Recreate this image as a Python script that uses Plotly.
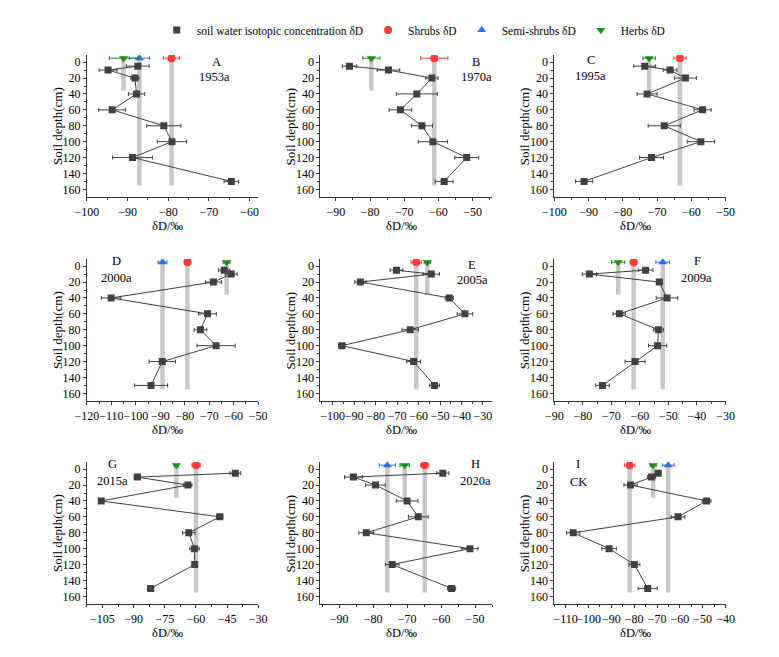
import plotly.graph_objects as go

# ---------------- data ----------------
depths = [5, 10, 20, 40, 60, 80, 100, 120, 150]
panel_letters = ["A", "B", "C", "D", "E", "F", "G", "H", "I"]
panel_years = ["1953a", "1970a", "1995a", "2000a", "2005a", "2009a", "2015a", "2020a", "CK"]

dD_A = [-87.5, -94.8, -88.2, -87.8, -93.8, -81.1, -79.1, -88.8, -64.5]
sd_A = [2.8, 2.2, 1.0, 2.0, 3.3, 4.2, 3.6, 4.9, 1.8]
dD_B = [-86.0, -74.6, -61.9, -66.3, -71.1, -64.8, -61.6, -51.7, -58.3]
sd_B = [2.1, 3.3, 1.8, 6.0, 3.3, 3.1, 4.3, 3.5, 2.6]
dD_C = [-73.6, -66.2, -61.7, -72.9, -56.7, -67.9, -57.2, -71.6, -91.3]
sd_C = [3.2, 2.0, 3.2, 2.9, 2.5, 4.7, 4.0, 3.5, 2.5]
dD_D = [-63.9, -61.0, -68.3, -110.1, -70.7, -73.6, -67.2, -89.2, -93.8]
sd_D = [2.3, 2.4, 3.3, 4.0, 3.6, 2.6, 7.8, 5.4, 6.8]
dD_E = [-70.3, -54.1, -87.1, -45.7, -38.4, -63.9, -95.7, -62.3, -52.6]
sd_E = [3.0, 3.8, 2.6, 1.9, 3.6, 3.8, 1.5, 3.2, 2.3]
dD_F = [-58.0, -77.7, -53.2, -50.5, -67.2, -53.5, -53.8, -61.7, -73.1]
sd_F = [2.6, 2.5, 1.0, 3.8, 2.2, 1.7, 3.2, 3.5, 2.4]
dD_G = [-41.0, -88.2, -63.9, -105.6, -48.5, -63.4, -60.7, -60.6, -81.8]
sd_G = [2.6, 1.5, 2.0, 1.0, 1.5, 3.0, 2.3, 1.0, 1.5]
dD_H = [-59.5, -85.8, -79.3, -70.0, -66.7, -82.0, -51.5, -74.4, -56.9]
sd_H = [1.8, 2.6, 2.9, 3.2, 2.9, 2.2, 2.4, 2.0, 1.2]
dD_I = [-69.5, -72.4, -81.6, -48.3, -60.8, -106.7, -91.0, -79.9, -74.1]
sd_I = [1.2, 1.8, 2.9, 1.9, 3.0, 2.9, 3.2, 2.4, 4.2]

soil_dD = [dD_A, dD_B, dD_C, dD_D, dD_E, dD_F, dD_G, dD_H, dD_I]
soil_sd = [sd_A, sd_B, sd_C, sd_D, sd_E, sd_F, sd_G, sd_H, sd_I]

# plant xylem water (None = not sampled)
shrubs_dD = [-79.2, -61.2, -63.3, -78.9, -61.1, -62.2, -59.9, -64.8, -82.0]
shrubs_sd = [2.0, 4.0, 1.8, 1.3, 2.4, 1.2, 2.0, 1.2, 2.3]
semi_dD = [-87.1, None, None, -89.1, None, -52.0, None, -75.8, -65.1]
semi_sd = [2.5, None, None, 1.8, None, 2.4, None, 2.4, 2.6]
herbs_dD = [-91.0, -79.6, -72.3, -62.9, -55.9, -67.6, -69.4, -70.7, -71.7]
herbs_sd = [3.5, 2.5, 1.8, 1.4, 1.5, 2.3, 1.0, 1.4, 1.3]

plant_depth = -5          # plotted just above the surface
deep_root = 155           # shrubs / semi-shrubs rooting depth
shallow_root = 36         # herbs rooting depth

x_ranges = [[-100, -57.9], [-94.5, -44.3], [-100, -50],
            [-120, -50], [-105.7, -25.8], [-90, -30],
            [-112.5, -30], [-95.5, -45], [-115, -40]]
x_dticks = [10, 10, 10, 10, 10, 10, 15, 10, 10]

# ---------------- layout helpers ----------------
W, H = 779, 657
FONT = "Liberation Serif, Times New Roman, serif"
cols = [(77, 253), (317, 493.3), (557.3, 733.3)]
rows = [(55, 197.3), (259, 401.3), (462, 604.3)]
label_pos = [(210, 62, 208, 77), (477, 62, 477, 77), (595, 60, 595, 76),
             (107, 261, 107, 278), (473, 265, 473, 280), (704, 261, 703, 278),
             (103, 464, 103, 481), (476, 464, 476, 481), (582, 464, 582, 482)]

def fx(p):
    return p / W

def fy(p):
    return 1 - p / H

SOIL = "#404040"
RED = "#ff3b3b"
BLUE = "#2f6fe6"
GREEN = "#1a8a1a"
BAR = "#c8c8c8"

fig = go.Figure()
annotations = []

for i in range(9):
    r, c = divmod(i, 3)
    sfx = "" if i == 0 else str(i + 1)
    xa, ya = "x" + sfx, "y" + sfx
    first = i == 0

    # grey root-zone bars
    for vals, dep in ((semi_dD, deep_root), (shrubs_dD, deep_root), (herbs_dD, shallow_root)):
        v = vals[i]
        if v is not None:
            fig.add_trace(go.Scatter(x=[v, v], y=[plant_depth, dep], mode="lines",
                                     line=dict(color=BAR, width=4.5), showlegend=False,
                                     hoverinfo="skip", xaxis=xa, yaxis=ya))
    # soil profile line
    fig.add_trace(go.Scatter(x=soil_dD[i], y=depths, mode="lines",
                             line=dict(color=SOIL, width=1), showlegend=False,
                             xaxis=xa, yaxis=ya))
    # soil markers
    fig.add_trace(go.Scatter(x=soil_dD[i], y=depths, mode="markers",
                             marker=dict(symbol="square", size=7, color=SOIL),
                             error_x=dict(type="data", array=soil_sd[i], color=SOIL,
                                          thickness=1, width=2),
                             name="soil water isotopic concentration δD",
                             legendgroup="soil", showlegend=first, xaxis=xa, yaxis=ya))
    # plants
    for vals, sds, nm, sym, col, sz in ((shrubs_dD, shrubs_sd, "Shrubs δD", "circle", RED, 8),
                                         (semi_dD, semi_sd, "Semi-shrubs δD", "triangle-up", BLUE, 8),
                                         (herbs_dD, herbs_sd, "Herbs δD", "triangle-down", GREEN, 8)):
        v = vals[i]
        if v is not None:
            fig.add_trace(go.Scatter(x=[v], y=[plant_depth], mode="markers",
                                     marker=dict(symbol=sym, size=sz, color=col),
                                     error_x=dict(type="data", array=[sds[i]], color=col,
                                                  thickness=1, width=2),
                                     name=nm, legendgroup=nm, showlegend=first,
                                     xaxis=xa, yaxis=ya))

    x0, x1 = cols[c]
    t0, b0 = rows[r]
    axis_common = dict(showline=True, linecolor="#333333", linewidth=1, ticks="outside",
                       ticklen=3, tickcolor="#333333", showgrid=False, zeroline=False,
                       tickangle=0,
                       tickfont=dict(family=FONT, size=12, color="black"))
    fig.layout["xaxis" + sfx] = dict(axis_common, domain=[fx(x0), fx(x1)], anchor=ya,
                                     range=x_ranges[i], dtick=x_dticks[i],
                                     tick0=0, minor=dict(ticks="outside", ticklen=2,
                                                         tickcolor="#333333",
                                                         dtick=x_dticks[i] / 2))
    fig.layout["yaxis" + sfx] = dict(axis_common, domain=[fy(b0), fy(t0)], anchor=xa,
                                     range=[170, -9],
                                     tickvals=[0, 20, 40, 60, 80, 100, 120, 140, 160],
                                     minor=dict(ticks="outside", ticklen=2,
                                                tickcolor="#333333",
                                                tickvals=[10, 30, 50, 70, 90, 110, 130, 150]))
    # axis titles
    annotations.append(dict(text="Soil depth(cm)", x=fx(x0 - 31), y=fy((t0 + b0) / 2),
                            xref="paper", yref="paper", textangle=-90, showarrow=False,
                            xanchor="center", yanchor="middle",
                            font=dict(family=FONT, size=13, color="black")))
    annotations.append(dict(text="δD/‰", x=fx((x0 + x1) / 2 - 5), y=fy(b0 + 29),
                            xref="paper", yref="paper", showarrow=False,
                            xanchor="center", yanchor="middle",
                            font=dict(family=FONT, size=12.5, color="black")))
    lx, ly, yx, yy = label_pos[i]
    annotations.append(dict(text=panel_letters[i], x=fx(lx), y=fy(ly), xref="paper",
                            yref="paper", showarrow=False, xanchor="center", yanchor="middle",
                            font=dict(family=FONT, size=12.5, color="black")))
    annotations.append(dict(text=panel_years[i], x=fx(yx), y=fy(yy), xref="paper",
                            yref="paper", showarrow=False, xanchor="center", yanchor="middle",
                            font=dict(family=FONT, size=12.5, color="black")))

fig.update_layout(
    width=W, height=H, margin=dict(l=0, r=0, t=0, b=0),
    paper_bgcolor="white", plot_bgcolor="white",
    annotations=annotations,
    legend=dict(orientation="h", x=0.53, xanchor="center", y=fy(30), yanchor="middle",
                font=dict(family=FONT, size=11.5, color="black"),
                itemwidth=30, traceorder="normal", bgcolor="rgba(0,0,0,0)"),
    showlegend=True,
)

fig.write_html("out.html")
